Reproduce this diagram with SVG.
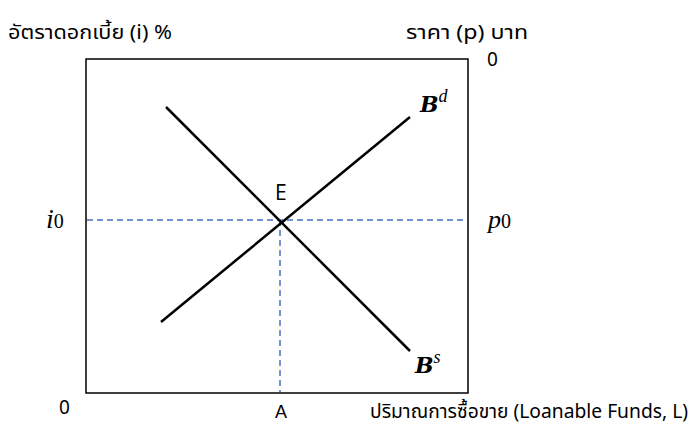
<svg xmlns="http://www.w3.org/2000/svg" width="693" height="426" viewBox="0 0 693 426">
<style>
.t{font-family:"Noto Sans Thai","Noto Sans","DejaVu Sans",sans-serif;font-size:19px;fill:#000}
.m{font-family:"Liberation Serif","DejaVu Serif",serif;font-style:italic;fill:#000}
.b{font-family:"DejaVu Serif","Liberation Serif",serif;font-style:italic;font-weight:bold;fill:#000}
.sup{font-family:"Liberation Serif",serif;font-weight:normal;font-style:italic}
.curve{stroke:#000;stroke-width:2.5;fill:none}
.dash{stroke:#4472c4;stroke-width:1.5;stroke-dasharray:6,4;fill:none}
</style>
<rect width="693" height="426" fill="#fff"/>
<g id="frame"><rect x="86" y="59" width="382" height="334" fill="none" stroke="#000" stroke-width="1.5"/></g>
<g id="connectors">
<line class="dash" x1="87" y1="220" x2="467" y2="220"/>
<line class="dash" x1="280" y1="220" x2="280" y2="392"/>
<line class="curve" x1="166" y1="107" x2="410" y2="351"/>
<line class="curve" x1="161" y1="322" x2="410" y2="117"/>
</g>
<g id="labels">
<text class="t" x="8" y="39" textLength="164" lengthAdjust="spacingAndGlyphs">อัตราดอกเบี้ย (i) %</text>
<text class="t" x="406" y="39" textLength="122" lengthAdjust="spacingAndGlyphs">ราคา (p) บาท</text>
<text class="t" x="487" y="66">0</text>
<text class="t" x="59" y="414">0</text>
<text x="275" y="418" style="font-family:'Liberation Sans',sans-serif;font-size:18px">A</text>
<text class="t" x="370" y="418" textLength="318" lengthAdjust="spacingAndGlyphs">ปริมาณการซื้อขาย (Loanable Funds, L)</text>
<text x="275" y="200" style="font-family:'Open Sans','Liberation Sans',sans-serif;font-size:21px">E</text>
<text class="m" x="46" y="228" font-size="28">i<tspan font-style="normal" font-size="20">0</tspan></text>
<text class="m" x="488" y="228" font-size="26">p<tspan font-style="normal" font-size="20">0</tspan></text>
<text class="b" x="420" y="112" font-size="22">B<tspan class="sup" font-size="18" dy="-10">d</tspan></text>
<text class="b" x="415" y="373" font-size="22">B<tspan class="sup" font-size="18" dy="-10">s</tspan></text>
</g>
</svg>
